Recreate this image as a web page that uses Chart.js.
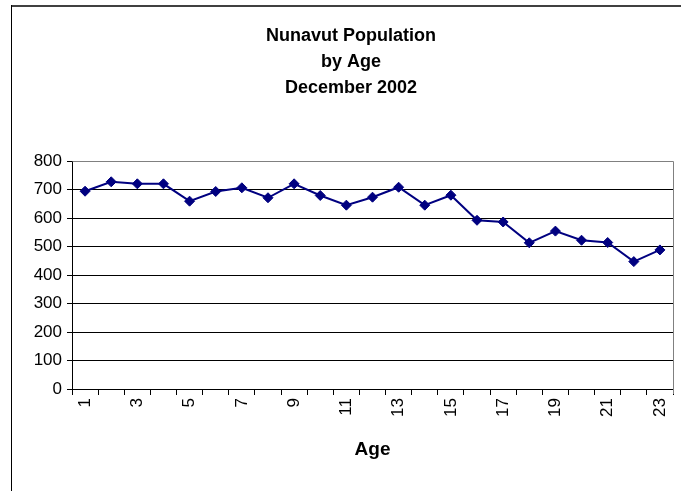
<!DOCTYPE html>
<html>
<head>
<meta charset="utf-8">
<script src="https://cdn.jsdelivr.net/npm/chart.js@4/dist/chart.umd.min.js"></script>
<style>
  html, body { margin: 0; padding: 0; background: #fff; }
  canvas { display: block; }
</style>
</head>
<body>
<canvas id="chart" width="681" height="491"></canvas>
<script>
// Nunavut population by single year of age, December 2002
const ages = ['1','2','3','4','5','6','7','8','9','10','11','12','13','14','15','16','17','18','19','20','21','22','23'];
const population = [694, 727, 720, 720, 659, 693, 706, 671, 720, 679, 645, 673, 708, 645, 680, 592, 586, 513, 554, 522, 514, 447, 488];
const titleLines = ['Nunavut Population', 'by Age', 'December 2002'];
const xAxisTitle = 'Age';

const FONT = "'Liberation Sans', Arial, sans-serif";

// White page, outer frame, and the grey top/right edges of the plot box
const frame = {
  id: 'frame',
  afterLayout(chart) {
    // centre the title inside the framed region rather than the whole canvas
    if (chart.titleBlock) chart.titleBlock.left = 29;
  },
  beforeDraw(chart) {
    const ctx = chart.ctx;
    ctx.save();
    ctx.fillStyle = '#fff';
    ctx.fillRect(0, 0, chart.width, chart.height);
    ctx.fillStyle = '#404040';
    ctx.fillRect(11, 5, chart.width - 11, 2);
    ctx.fillStyle = '#000';
    ctx.fillRect(11, 5, 1, chart.height - 5);
    ctx.restore();
  },
  afterDatasetsDraw(chart) {
    const a = chart.chartArea;
    const ctx = chart.ctx;
    ctx.save();
    ctx.strokeStyle = '#808080';
    ctx.lineWidth = 1;
    ctx.beginPath();
    ctx.moveTo(Math.round(a.left) + 0.5, Math.round(a.top) + 0.5);
    ctx.lineTo(Math.round(a.right) + 0.5, Math.round(a.top) + 0.5);
    ctx.lineTo(Math.round(a.right) + 0.5, Math.round(a.bottom) + 5);
    ctx.stroke();
    ctx.restore();
  }
};

new Chart(document.getElementById('chart'), {
  type: 'line',
  data: {
    labels: ages,
    datasets: [{
      data: population,
      borderColor: '#000080',
      backgroundColor: '#000080',
      borderWidth: 2,
      tension: 0,
      pointStyle: 'rectRot',
      pointRadius: 5,
      pointBorderWidth: 1,
      pointBackgroundColor: '#000080',
      pointBorderColor: '#000080'
    }]
  },
  options: {
    responsive: false,
    animation: false,
    devicePixelRatio: 1,
    layout: { padding: { left: 0, right: 8, top: 0, bottom: 0 } },
    plugins: {
      legend: { display: false },
      tooltip: { enabled: false },
      title: {
        display: true,
        text: titleLines,
        color: '#000',
        font: { family: FONT, size: 18, weight: 'bold', lineHeight: 26 / 18 },
        padding: { top: 23, bottom: 60 }
      }
    },
    scales: {
      x: {
        type: 'category',
        offset: true,
        afterFit(scale) {
          scale.height = 102;
          scale.paddingLeft = 0;
          scale.paddingRight = 0;
        },
        border: { display: true, color: '#000', width: 1 },
        grid: {
          offset: true,
          drawOnChartArea: false,
          drawTicks: true,
          tickLength: 6,
          color: '#000'
        },
        ticks: {
          autoSkip: false,
          minRotation: 90,
          maxRotation: 90,
          padding: 3,
          color: '#000',
          font: { family: FONT, size: 17 },
          callback(value, index) { return index % 2 === 0 ? ages[index] : ''; }
        },
        title: {
          display: true,
          text: xAxisTitle,
          color: '#000',
          font: { family: FONT, size: 19, weight: 'bold' },
          padding: { top: 0, bottom: 30 }
        }
      },
      y: {
        min: 0,
        max: 800,
        afterFit(scale) { scale.width = 72; },
        border: { display: true, color: '#000', width: 1 },
        grid: {
          color: '#000',
          lineWidth: 1,
          drawTicks: true,
          tickLength: 5
        },
        ticks: {
          stepSize: 100,
          padding: 5,
          color: '#000',
          font: { family: FONT, size: 17 }
        }
      }
    }
  },
  plugins: [frame]
});
</script>
</body>
</html>
